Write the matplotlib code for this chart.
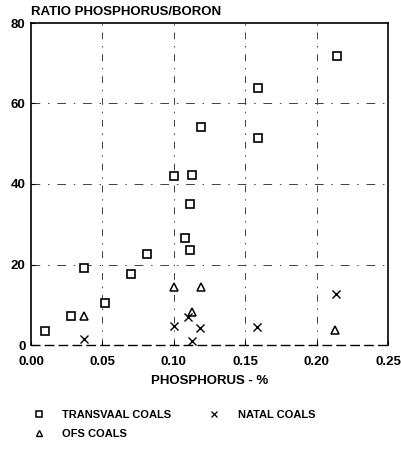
import matplotlib
matplotlib.use("Agg")
import matplotlib.pyplot as plt
from matplotlib.lines import Line2D

plt.rcParams['font.family'] = ['Liberation Sans', 'DejaVu Sans']
plt.rcParams['font.weight'] = 'bold'

# Phosphorus (%) and P/B ratio
transvaal_p = [0.010, 0.028, 0.037, 0.052, 0.070, 0.081, 0.100, 0.113, 0.111,
               0.108, 0.111, 0.119, 0.159, 0.159, 0.214]
transvaal_ratio = [3.5, 7.1, 19.1, 10.4, 17.6, 22.7, 42.1, 42.2, 35.0,
                   26.6, 23.5, 54.2, 63.8, 51.5, 71.8]

ofs_p = [0.037, 0.100, 0.119, 0.1125, 0.213]
ofs_ratio = [7.1, 14.5, 14.5, 8.3, 3.7]

natal_p = [0.037, 0.100, 0.110, 0.118, 0.1125, 0.1585, 0.2136]
natal_ratio = [1.5, 4.6, 7.0, 4.3, 1.0, 4.4, 12.6]

x_ticks = [0.00, 0.05, 0.10, 0.15, 0.20, 0.25]
y_ticks = [0, 20, 40, 60, 80]

fig = plt.figure(figsize=(4.02, 4.49), dpi=100)
ax = fig.add_axes([31 / 402, 1 - 345 / 449, 357 / 402, 322 / 449])

# broken dashed grid like the scanned original
for xv in x_ticks[1:-1]:
    ax.axvline(xv, color='0.25', lw=0.7, ls=(0, (7, 7, 1.5, 7)), zorder=1)
for yv in y_ticks[1:-1]:
    ax.axhline(yv, color='0.25', lw=0.7, ls=(0, (9, 8, 1.5, 8)), zorder=1)

ax.plot(transvaal_p, transvaal_ratio, ls='none', marker='s', ms=5.2,
        mfc='white', mec='black', mew=1.2, zorder=3)
ax.plot(ofs_p, ofs_ratio, ls='none', marker='^', ms=6,
        mfc='white', mec='black', mew=1.1, zorder=3)
ax.plot(natal_p, natal_ratio, ls='none', marker='x', ms=5.5,
        mec='black', mew=1.0, zorder=3)

ax.set_xlim(0, 0.25)
ax.set_ylim(0, 80)
ax.set_xticks(x_ticks)
ax.set_xticklabels([f'{v:.2f}' for v in x_ticks])
ax.set_yticks(y_ticks)
ax.tick_params(direction='in', length=3, width=0.8, labelsize=9.5)
ax.tick_params(axis='x', pad=8)
ax.tick_params(axis='y', pad=4)

for side in ['left', 'top', 'right']:
    ax.spines[side].set_linewidth(1.2)
ax.spines['bottom'].set_linewidth(1.0)
ax.spines['bottom'].set_linestyle((0, (6, 4)))

ax.set_title('RATIO PHOSPHORUS/BORON', loc='left', fontsize=9.5,
             fontweight='bold', pad=6)
ax.set_xlabel('PHOSPHORUS - %', fontsize=9.5, fontweight='bold', labelpad=5)

handles = [
    Line2D([], [], ls='none', marker='s', ms=4, mfc='white', mec='black', mew=1.1),
    Line2D([], [], ls='none', marker='^', ms=4.5, mfc='white', mec='black', mew=1.0),
    Line2D([], [], ls='none', marker='x', ms=4.5, mec='black', mew=0.9),
]
labels = ['TRANSVAAL COALS', 'OFS COALS', 'NATAL COALS']
fig.legend(handles, labels, ncol=2, loc='upper left',
           bbox_to_anchor=(32 / 402, 1 - 410 / 449), frameon=False,
           fontsize=8, handlelength=1.2, handletextpad=1.5,
           columnspacing=3.3, labelspacing=0.8, borderaxespad=0,
           borderpad=0)

fig.savefig('out.png', dpi=100)
plt.close(fig)
